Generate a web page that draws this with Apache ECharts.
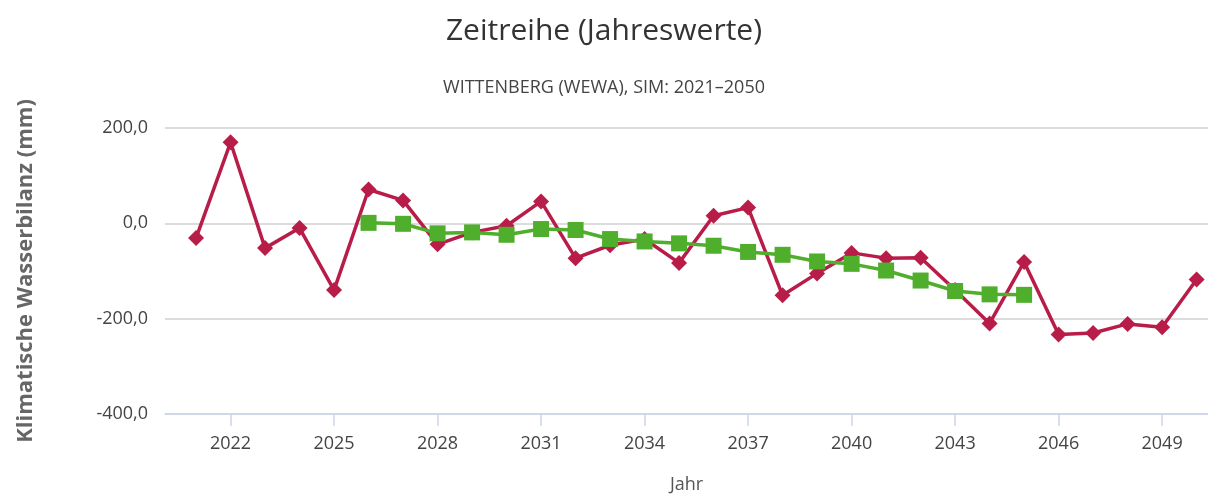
<!DOCTYPE html>
<html><head><meta charset="utf-8">
<script src="https://cdn.jsdelivr.net/npm/echarts@6/dist/echarts.min.js"></script>
<style>html,body{margin:0;padding:0;background:#fff}#c{width:1208px;height:499px}</style>
</head><body><div id="c"></div>
<script>
const years = [2021,2022,2023,2024,2025,2026,2027,2028,2029,2030,2031,2032,2033,2034,2035,2036,2037,2038,2039,2040,2041,2042,2043,2044,2045,2046,2047,2048,2049,2050];
const annualValues = [-31,170,-52,-10,-140,71,48,-44,-19,-5,46,-73,-46,-33,-83,16,33,-151,-105,-62,-73,-72,-140,-210,-81,-233,-230,-211,-218,-118];
const smoothYears = [2026,2027,2028,2029,2030,2031,2032,2033,2034,2035,2036,2037,2038,2039,2040,2041,2042,2043,2044,2045];
const smoothValues = [1,-1,-21,-19,-24,-12,-14,-33,-38,-42,-47,-60,-66,-80,-85,-99,-120,-142,-149,-150];
const xTicks = [2022,2025,2028,2031,2034,2037,2040,2043,2046,2049];
const titleText = 'Zeitreihe (Jahreswerte)';
const subtitleText = 'WITTENBERG (WEWA), SIM: 2021–2050';
const yName = 'Klimatische Wasserbilanz (mm)';
const xName = 'Jahr';

const font = '"Open Sans", "DejaVu Sans", sans-serif';
const chart = echarts.init(document.getElementById('c'));
chart.setOption({
  animation: false,
  title: [
    {text: titleText, left: 'center', top: 11, textStyle: {fontFamily: font, fontSize: 30, fontWeight: 'normal', color: '#333'}},
    {text: subtitleText, left: 'center', top: 74, textStyle: {fontFamily: font, fontSize: 18, fontWeight: 'normal', color: '#444'}}
  ],
  grid: {left: 165, right: 0, top: 128, bottom: 82, containLabel: false},
  xAxis: {
    type: 'value', min: 2020.1, max: 2050.33,
    name: xName, nameLocation: 'middle', nameGap: 62,
    nameTextStyle: {fontFamily: font, fontSize: 18, color: '#555'},
    axisLine: {show: true, onZero: false, lineStyle: {color: '#ccd6eb', width: 1.5}},
    axisTick: {show: true, customValues: xTicks, length: 12, lineStyle: {color: '#ccd6eb', width: 1.5}},
    axisLabel: {customValues: xTicks, fontFamily: font, fontSize: 18, color: '#444', margin: 21, formatter: v => String(v)},
    splitLine: {show: false}
  },
  yAxis: {
    type: 'value', min: -400, max: 200, interval: 200,
    name: yName, nameLocation: 'middle', nameGap: 128, nameRotate: 90,
    nameTextStyle: {fontFamily: font, fontSize: 22, fontWeight: 'bold', color: '#666'},
    axisLine: {show: false}, axisTick: {show: false},
    axisLabel: {fontFamily: font, fontSize: 18, color: '#444', margin: 17,
      formatter: v => v.toFixed(1).replace('.', ',')},
    splitLine: {lineStyle: {color: '#d0d0d0', width: 1.5}}
  },
  series: [
    {type: 'line', data: years.map((y, i) => [y, annualValues[i]]),
     symbol: 'diamond', symbolSize: 16, z: 2,
     lineStyle: {color: '#b81c48', width: 3.5}, itemStyle: {color: '#b81c48'}},
    {type: 'line', data: smoothYears.map((y, i) => [y, smoothValues[i]]),
     symbol: 'rect', symbolSize: 16, z: 3,
     lineStyle: {color: '#4fae2c', width: 3.5}, itemStyle: {color: '#4fae2c'}}
  ]
});
</script></body></html>
